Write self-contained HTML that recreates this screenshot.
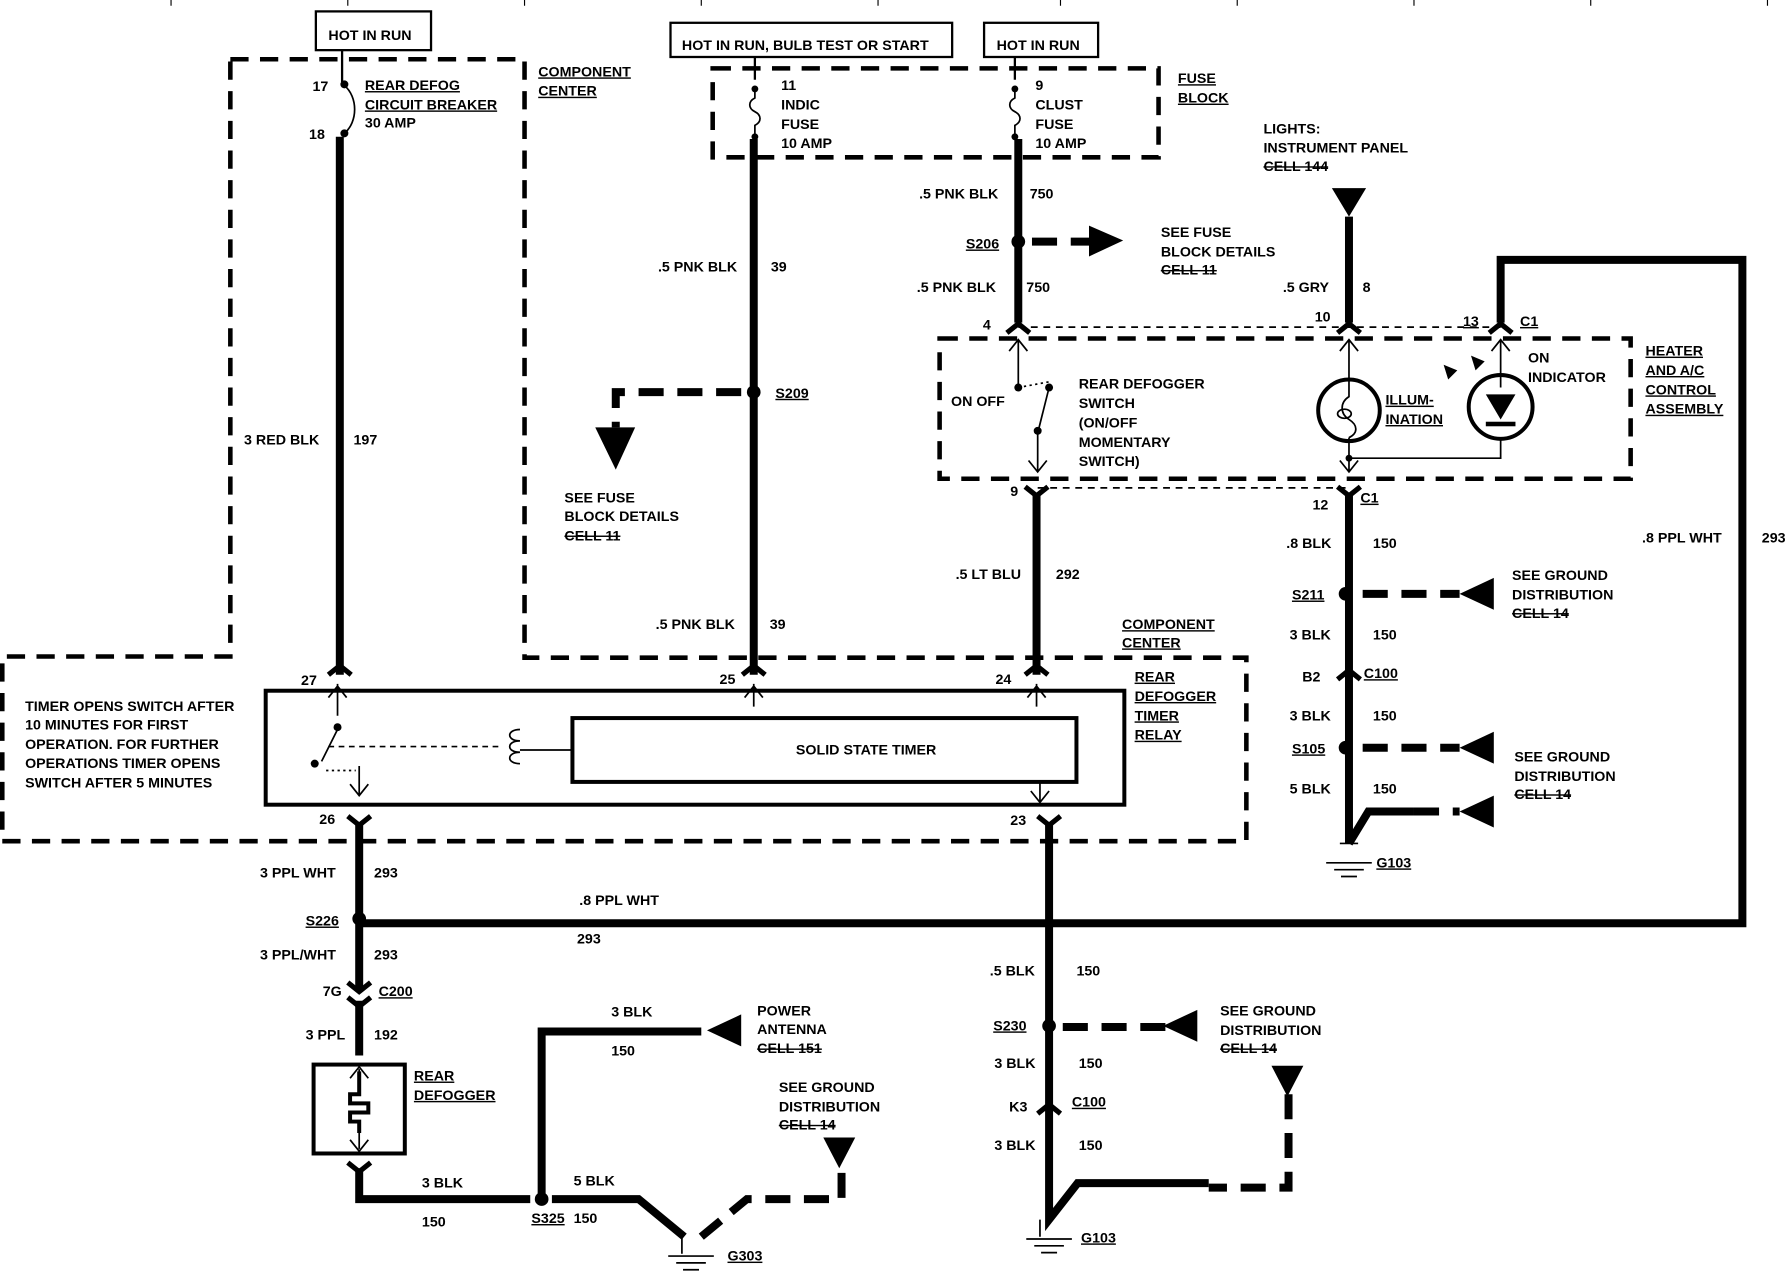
<!DOCTYPE html>
<html><head><meta charset="utf-8"><style>
html,body{margin:0;padding:0;background:#fff;}
svg{display:block;}
text{font-family:"Liberation Sans",sans-serif;font-weight:bold;font-size:12.5px;fill:#000;}
</style></head><body>
<svg width="1788" height="1280" viewBox="0 0 1568 1123" preserveAspectRatio="none" xmlns="http://www.w3.org/2000/svg">
<rect width="1568" height="1123" fill="#fff"/>
<g stroke="#000" stroke-width="1" fill="none">
<path d="M150 0v5M305 0v5M460 0v5M615 0v5M770 0v5M930 0v5M1085 0v5M1240 0v5M1395 0v5M1550 0v5"/>
</g>
<!-- top boxes -->
<g stroke="#000" stroke-width="2" fill="none">
<rect x="277" y="10" width="101" height="34"/>
<rect x="588" y="20" width="247" height="30"/>
<rect x="863" y="20" width="100" height="30"/>
<path d="M300 44v28M662 50v20M890 50v20"/>
</g>
<!-- dashed outlines -->
<g stroke="#000" stroke-width="4" fill="none" stroke-dasharray="16,10">
<path d="M202 52H460V577H1093V738H2V576H202Z"/>
<path d="M625 60H1016V138H625Z"/>
<path d="M824 297H1430V420H824Z"/>
</g>
<g stroke="#000" stroke-width="1.5" fill="none" stroke-dasharray="6,5">
<path d="M893 287H1316M910 428H1183"/>
</g>
<!-- fuses -->
<g stroke="#000" stroke-width="1.5" fill="none">
<path d="M302 75c12 10 12 32 0 42"/>
<path d="M662 78v8c-6 3-6 9 0 12s6 9 0 12v8"/>
<path d="M890 78v8c-6 3-6 9 0 12s6 9 0 12v8"/>
</g>
<g fill="#000">
<circle cx="302" cy="74" r="3.5"/><circle cx="302" cy="117" r="3.5"/>
<circle cx="662" cy="78" r="3"/><circle cx="662" cy="120" r="3"/>
<circle cx="890" cy="78" r="3"/><circle cx="890" cy="120" r="3"/>
</g>
<!-- thick wires -->
<g stroke="#000" stroke-width="7" fill="none">
<path d="M298 120V592"/>
<path d="M661 122V592"/>
<path d="M893 122V283"/>
<path d="M909 434V592"/>
<path d="M1183 190V283"/>
<path d="M1183 434V740"/>
<path d="M1316 283V228H1528V810H315"/>
<path d="M315 722V868"/>
<path d="M315 878V926"/>
<path d="M315 1025V1052H465"/>
<path d="M484 1052H560L600 1085"/>
<path d="M475 1052V905H615"/>
<path d="M920 722V1070L945 1038H1060"/>
<path d="M1183 740L1200 712H1240"/>
</g>
<!-- dashed thick -->
<g stroke="#000" stroke-width="7" fill="none" stroke-dasharray="22,12">
<path d="M650 344H540V375"/>
<path d="M905 212H960"/>
<path d="M1195 521H1280"/>
<path d="M1195 656H1280"/>
<path d="M1240 712H1280"/>
<path d="M932 901H1030"/>
<path d="M1130 960V1042H1060"/>
<path d="M615 1085L655 1052H700"/>
<path d="M705 1052H738V1025"/>
</g>
<!-- arrowheads solid -->
<g fill="#000">
<path d="M522 375H557L540 412Z"/>
<path d="M955 198L985 211L955 225Z"/>
<path d="M1168 165H1198L1183 190Z"/>
<path d="M1310 507V535L1280 521Z"/>
<path d="M1310 642V670L1280 656Z"/>
<path d="M1310 698V726L1280 712Z"/>
<path d="M650 890V918L620 904Z"/>
<path d="M1050 886V914L1020 900Z"/>
<path d="M1115 935H1143L1129 962Z"/>
<path d="M722 998H750L736 1025Z"/>
<circle cx="661" cy="344" r="6"/><circle cx="893" cy="212" r="6"/>
<circle cx="1180" cy="521" r="6"/><circle cx="1180" cy="656" r="6"/>
<circle cx="315" cy="806" r="6"/><circle cx="920" cy="900" r="6"/>
<circle cx="475" cy="1052" r="6"/>
</g>
<!-- thick connector chevrons -->
<g stroke="#000" stroke-width="4.5" fill="none">
<path d="M288 592l10-8 10 8M651 592l10-8 10 8M899 592l10-8 10 8"/>
<path d="M883 292l10-8 10 8M1173 292l10-8 10 8M1306 292l10-8 10 8"/>
<path d="M899 427l10 8 10-8M1173 427l10 8 10-8"/>
<path d="M305 716l10 8 10-8M910 716l10 8 10-8"/>
<path d="M305 862l10 8 10-8M305 875l10 8 10-8"/>
<path d="M305 1020l10 8 10-8"/>
<path d="M1173 596l10-8 10 8M910 977l10-8 10 8"/>
</g>
<g stroke="#000" stroke-width="5" fill="none">
<path d="M920 975V1070"/>
</g>
<!-- thin arrows -->
<g stroke="#000" stroke-width="1.5" fill="none">
<path d="M296 628V600M288 612l8-10 8 10"/>
<path d="M661 620V600M653 612l8-10 8 10"/>
<path d="M909 620V600M901 612l8-10 8 10"/>
<path d="M315 672V698M307 688l8 10 8-10"/>
<path d="M912 686V705M904 694l8 10 8-10"/>
<path d="M893 340V298M885 308l8-10 8 10"/>
<path d="M910 380V414M902 404l8 10 8-10"/>
<path d="M910 380L920 340"/>
<path d="M1183 340V298M1175 308l8-10 8 10"/>
<path d="M1183 384V413M1175 404l8 10 8-10"/>
<path d="M1316 340V298M1308 308l8-10 8 10"/>
<path d="M1183 402H1316V384"/>
<path d="M315 950V938M307 946l8-10 8 10"/>
<path d="M315 985V1008M307 1000l8 10 8-10"/>
<path d="M1175 740h16M1163 757h40M1170 763h26M1176 769h14"/>
<path d="M912 1070v15M900 1087h40M907 1093h26M913 1099h14"/>
<path d="M598 1085v15M586 1102h40M593 1108h26M599 1114h14"/>
<path d="M296 640L282 668"/><path d="M286 676h26" stroke-dasharray="2,3"/>
<path d="M288 655H440" stroke-dasharray="5,4"/>
<path d="M456 640c-12 0-12 10 0 10c-12 0-12 10 0 10c-12 0-12 10 0 10"/>
<path d="M456 658H502"/>
<path d="M893 340L920 335" stroke-dasharray="2,3"/>
<path d="M1183 340v8c-8 5-8 15 0 20s8 12 0 16" />
<ellipse cx="1179" cy="363" rx="6" ry="4"/>
</g>
<g fill="#000">
<circle cx="296" cy="638" r="3.5"/><circle cx="276" cy="670" r="3.5"/>
<circle cx="893" cy="340" r="3.5"/><circle cx="920" cy="340" r="3.5"/><circle cx="910" cy="378" r="3.5"/>
<circle cx="1183" cy="402" r="3"/>
<path d="M1303 346H1329L1316 368Z"/>
<rect x="1303" y="370" width="26" height="4"/>
<path d="M1266 320l12 5-8 8Z M1290 312l12 5-8 8Z"/>
</g>
<g stroke="#000" stroke-width="3.5" fill="none">
<circle cx="1183" cy="360" r="27"/>
<circle cx="1316" cy="357" r="28"/>
<rect x="233" y="606" width="753" height="100"/>
<rect x="502" y="630" width="442" height="56"/>
<rect x="275" y="934" width="80" height="78"/>
<path d="M315 940V960h-8v8h16v8h-16v8h8v10"/>
</g>
<!-- text -->
<g>
<text x="288" y="35">HOT IN RUN</text>
<text x="598" y="44">HOT IN RUN, BULB TEST OR START</text>
<text x="874" y="44">HOT IN RUN</text>
<text x="274" y="80">17</text><text x="271" y="122">18</text>
<text x="320" y="79" text-decoration="underline">REAR DEFOG</text>
<text x="320" y="96" text-decoration="underline">CIRCUIT BREAKER</text>
<text x="320" y="112">30 AMP</text>
<text x="472" y="67" text-decoration="underline">COMPONENT</text>
<text x="472" y="84" text-decoration="underline">CENTER</text>
<text x="685" y="79">11</text><text x="685" y="96">INDIC</text><text x="685" y="113">FUSE</text><text x="685" y="130">10 AMP</text>
<text x="908" y="79">9</text><text x="908" y="96">CLUST</text><text x="908" y="113">FUSE</text><text x="908" y="130">10 AMP</text>
<text x="1033" y="73" text-decoration="underline">FUSE</text><text x="1033" y="90" text-decoration="underline">BLOCK</text>
<text x="1108" y="117">LIGHTS:</text><text x="1108" y="134">INSTRUMENT PANEL</text><text x="1108" y="150" text-decoration="line-through">CELL 144</text>
<text x="806" y="174">.5 PNK BLK</text><text x="903" y="174">750</text>
<text x="847" y="218" text-decoration="underline">S206</text>
<text x="1018" y="208">SEE FUSE</text><text x="1018" y="225">BLOCK DETAILS</text><text x="1018" y="241" text-decoration="line-through">CELL 11</text>
<text x="804" y="256">.5 PNK BLK</text><text x="900" y="256">750</text>
<text x="1125" y="256">.5 GRY</text><text x="1195" y="256">8</text>
<text x="577" y="238">.5 PNK BLK</text><text x="676" y="238">39</text>
<text x="214" y="390">3 RED BLK</text><text x="310" y="390">197</text>
<text x="862" y="289">4</text><text x="1153" y="282">10</text><text x="1283" y="286" text-decoration="underline">13</text><text x="1333" y="286" text-decoration="underline">C1</text>
<text x="680" y="349" text-decoration="underline">S209</text>
<text x="834" y="356">ON OFF</text>
<text x="946" y="341">REAR DEFOGGER</text><text x="946" y="358">SWITCH</text><text x="946" y="375">(ON/OFF</text><text x="946" y="392">MOMENTARY</text><text x="946" y="409">SWITCH)</text>
<text x="1215" y="355" text-decoration="underline">ILLUM-</text><text x="1215" y="372" text-decoration="underline">INATION</text>
<text x="1340" y="318">ON</text><text x="1340" y="335">INDICATOR</text>
<text x="1443" y="312" text-decoration="underline">HEATER</text><text x="1443" y="329" text-decoration="underline">AND A/C</text><text x="1443" y="346" text-decoration="underline">CONTROL</text><text x="1443" y="363" text-decoration="underline">ASSEMBLY</text>
<text x="886" y="435">9</text><text x="1151" y="447">12</text><text x="1193" y="441" text-decoration="underline">C1</text>
<text x="495" y="441">SEE FUSE</text><text x="495" y="457">BLOCK DETAILS</text><text x="495" y="474" text-decoration="line-through">CELL 11</text>
<text x="1128" y="481">.8 BLK</text><text x="1204" y="481">150</text>
<text x="1440" y="476">.8 PPL WHT</text><text x="1545" y="476">293</text>
<text x="838" y="508">.5 LT BLU</text><text x="926" y="508">292</text>
<text x="1133" y="526" text-decoration="underline">S211</text>
<text x="1326" y="509">SEE GROUND</text><text x="1326" y="526">DISTRIBUTION</text><text x="1326" y="542" text-decoration="line-through">CELL 14</text>
<text x="575" y="552">.5 PNK BLK</text><text x="675" y="552">39</text>
<text x="984" y="552" text-decoration="underline">COMPONENT</text><text x="984" y="568" text-decoration="underline">CENTER</text>
<text x="1131" y="561">3 BLK</text><text x="1204" y="561">150</text>
<text x="1142" y="598">B2</text><text x="1196" y="595" text-decoration="underline">C100</text>
<text x="264" y="601">27</text><text x="631" y="600">25</text><text x="873" y="600">24</text>
<text x="995" y="598" text-decoration="underline">REAR</text><text x="995" y="615" text-decoration="underline">DEFOGGER</text><text x="995" y="632" text-decoration="underline">TIMER</text><text x="995" y="649" text-decoration="underline">RELAY</text>
<text x="22" y="624">TIMER OPENS SWITCH AFTER</text><text x="22" y="640">10 MINUTES FOR FIRST</text><text x="22" y="657">OPERATION. FOR FURTHER</text><text x="22" y="674">OPERATIONS TIMER OPENS</text><text x="22" y="691">SWITCH AFTER 5 MINUTES</text>
<text x="698" y="662">SOLID STATE TIMER</text>
<text x="1131" y="632">3 BLK</text><text x="1204" y="632">150</text>
<text x="1133" y="661" text-decoration="underline">S105</text>
<text x="1328" y="668">SEE GROUND</text><text x="1328" y="685">DISTRIBUTION</text><text x="1328" y="701" text-decoration="line-through">CELL 14</text>
<text x="1131" y="696">5 BLK</text><text x="1204" y="696">150</text>
<text x="280" y="723">26</text><text x="886" y="724">23</text>
<text x="1207" y="761" text-decoration="underline">G103</text>
<text x="228" y="770">3 PPL WHT</text><text x="328" y="770">293</text>
<text x="508" y="794">.8 PPL WHT</text>
<text x="268" y="812" text-decoration="underline">S226</text>
<text x="506" y="828">293</text>
<text x="228" y="842">3 PPL/WHT</text><text x="328" y="842">293</text>
<text x="868" y="856">.5 BLK</text><text x="944" y="856">150</text>
<text x="283" y="874">7G</text><text x="332" y="874" text-decoration="underline">C200</text>
<text x="536" y="892">3 BLK</text>
<text x="664" y="891">POWER</text><text x="664" y="907">ANTENNA</text><text x="664" y="924" text-decoration="line-through">CELL 151</text>
<text x="1070" y="891">SEE GROUND</text><text x="1070" y="908">DISTRIBUTION</text><text x="1070" y="924" text-decoration="line-through">CELL 14</text>
<text x="268" y="912">3 PPL</text><text x="328" y="912">192</text>
<text x="871" y="904" text-decoration="underline">S230</text>
<text x="536" y="926">150</text>
<text x="872" y="937">3 BLK</text><text x="946" y="937">150</text>
<text x="363" y="948" text-decoration="underline">REAR</text><text x="363" y="965" text-decoration="underline">DEFOGGER</text>
<text x="683" y="958">SEE GROUND</text><text x="683" y="975">DISTRIBUTION</text><text x="683" y="991" text-decoration="line-through">CELL 14</text>
<text x="885" y="975">K3</text><text x="940" y="971" text-decoration="underline">C100</text>
<text x="872" y="1009">3 BLK</text><text x="946" y="1009">150</text>
<text x="370" y="1042">3 BLK</text><text x="503" y="1040">5 BLK</text>
<text x="370" y="1076">150</text><text x="466" y="1073" text-decoration="underline">S325</text><text x="503" y="1073">150</text>
<text x="948" y="1090" text-decoration="underline">G103</text>
<text x="638" y="1106" text-decoration="underline">G303</text>
</g>
</svg>
</body></html>
